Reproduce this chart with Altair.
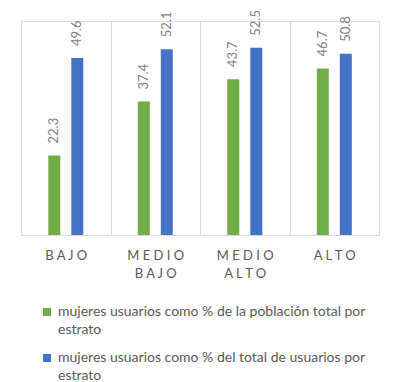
import altair as alt
import pandas as pd

categories = ["BAJO", "MEDIO BAJO", "MEDIO ALTO", "ALTO"]
tick_labels = [["B A J O"], ["M E D I O", "B A J O"], ["M E D I O", "A L T O"], ["A L T O"]]
series = [
    "mujeres usuarios como % de la población total por estrato",
    "mujeres usuarios como % del total de usuarios por estrato",
]
green_vals = [22.3, 37.4, 43.7, 46.7]
blue_vals = [49.6, 52.1, 52.5, 50.8]
colors = ["#70AD47", "#4472C4"]

rows = []
for c, g, b in zip(categories, green_vals, blue_vals):
    rows.append({"cat": c, "series": series[0], "value": g})
    rows.append({"cat": c, "series": series[1], "value": b})
df = pd.DataFrame(rows)

expr = "''"
for c, tl in reversed(list(zip(categories, tick_labels))):
    arr = "[" + ", ".join("'" + t + "'" for t in tl) + "]"
    expr = f"datum.value == '{c}' ? {arr} : ({expr})"

x = alt.X(
    "cat:N",
    sort=categories,
    scale=alt.Scale(paddingInner=0, paddingOuter=0),
    axis=alt.Axis(
        title=None,
        labelExpr=expr,
        tickBand="extent",
        grid=True,
        gridColor="#d9d9d9",
        ticks=False,
        tickSize=0,
        domainColor="#d9d9d9",
        labelAngle=0,
        labelFont="Lato",
        labelFontSize=13,
        labelColor="#595959",
        labelPadding=14,
        labelLineHeight=18,
        labelBaseline="top",
    ),
)
y = alt.Y("value:Q", scale=alt.Scale(domain=[0, 60]), axis=None)
xo = alt.XOffset("series:N", sort=series,
                 scale=alt.Scale(range=[27.3, 62.3], paddingInner=0.478, paddingOuter=0))

base = alt.Chart(df).encode(x=x, y=y, xOffset=xo)

bars = base.mark_bar().encode(
    color=alt.Color(
        "series:N",
        sort=series,
        scale=alt.Scale(domain=series, range=colors),
        legend=alt.Legend(
            title=None,
            orient="none",
            legendX=19,
            legendY=284,
            direction="vertical",
            symbolType="square",
            symbolSize=64,
            symbolStrokeWidth=0,
            labelFont="Lato",
            labelFontSize=14,
            labelColor="#595959",
            labelLimit=400,
            labelOffset=4,
            rowPadding=14,
            padding=0,
            labelExpr="split(replace(datum.label, ' por estrato', ' por|estrato'), '|')",
        ),
    )
)

labels = base.mark_text(
    angle=270, align="left", baseline="middle", dx=12,
    font="Lato", fontSize=13, color="#7f7f7f",
).encode(text=alt.Text("value:Q", format=".1f"))

chart = (
    alt.layer(bars, labels)
    .properties(
        width=358,
        height=214,
        autosize=alt.AutoSizeParams(type="none"),
        padding={"left": 13, "top": 13, "right": 13, "bottom": 147},
    )
    .configure_view(stroke=None)
    .configure(background="white", style={"guide-label": {"lineHeight": 18}})
)

chart.save("out.html", embed_options={"renderer": "svg", "actions": False})
